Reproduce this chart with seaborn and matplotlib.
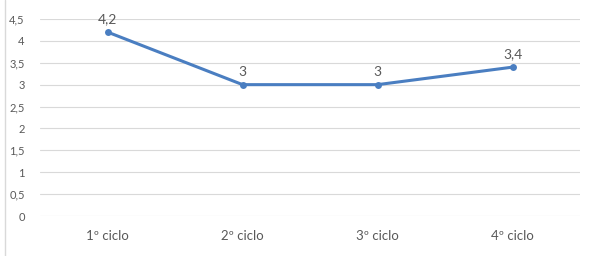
import matplotlib
matplotlib.use("Agg")
import matplotlib.pyplot as plt
import seaborn as sns
from matplotlib.lines import Line2D

ciclos = ["1º ciclo", "2º ciclo", "3º ciclo", "4º ciclo"]
valores = [4.2, 3, 3, 3.4]
rotulos = ["4,2", "3", "3", "3,4"]
yticks = [0, 0.5, 1, 1.5, 2, 2.5, 3, 3.5, 4, 4.5]

sns.set_style("white")
plt.rcParams['font.family'] = ['Lato', 'DejaVu Sans']

cor = '#4A7EC1'
cinza = '#595959'

fig = plt.figure(figsize=(5.89, 2.56), dpi=100)
ax = fig.add_axes([0.068, 0.156, 0.917, 0.77])

sns.lineplot(x=ciclos, y=valores, sort=False, marker='o', color=cor,
             linewidth=2.2, markersize=5, markeredgewidth=0, ax=ax)

for i, (v, r) in enumerate(zip(valores, rotulos)):
    ax.annotate(r, (i, v), xytext=(0, 5), textcoords='offset points',
                ha='center', va='bottom', fontsize=10, color=cinza)

ax.set_xlim(-0.5, 3.5)
ax.set_ylim(0, 4.5)
ax.set_yticks(yticks)
ax.set_yticklabels([f"{t:g}".replace('.', ',') for t in yticks])
ax.yaxis.grid(True, color='#D9D9D9', linewidth=0.8)
ax.set_axisbelow(True)
for s in ax.spines.values():
    s.set_visible(False)
ax.tick_params(axis='y', length=0, labelsize=8, labelcolor=cinza, pad=11)
ax.tick_params(axis='x', length=0, labelsize=9.5, labelcolor=cinza, pad=10)
ax.set_xlabel('')
ax.set_ylabel('')

# borda esquerda do quadro
fig.add_artist(Line2D([0.009, 0.009], [0, 1], transform=fig.transFigure,
                      color='#D9D9D9', linewidth=1))

fig.savefig('out.png', dpi=100)
